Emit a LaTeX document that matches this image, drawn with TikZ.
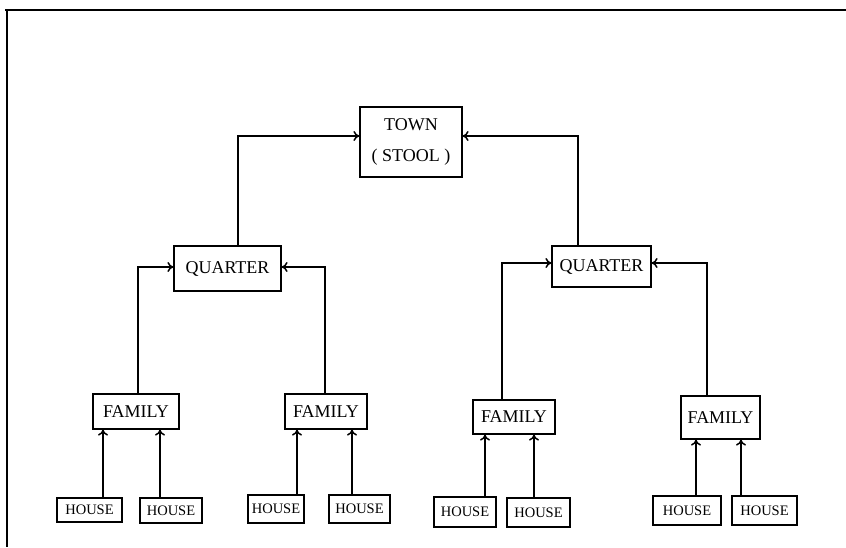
\documentclass[tikz,border=0pt]{standalone}
\usepackage{fontspec}
\setmainfont{Liberation Serif}
\usetikzlibrary{arrows.meta}
\begin{document}
\begin{tikzpicture}[x=1pt,y=-1pt,
  box/.style={draw,line width=1.2pt,inner sep=0pt,align=center},
  bigbox/.style={box,font=\fontsize{18}{31}\selectfont},
  housebox/.style={box,font=\fontsize{14.5}{16}\selectfont},
  arr/.style={line width=1.2pt,-{To[length=6pt,width=10pt,line width=1.5pt]}}]
\useasboundingbox (0,0) rectangle (846,547);
% frame
\coordinate (f1) at (5,10);
\coordinate (f2) at (846,10);
\coordinate (f3) at (7,10);
\coordinate (f4) at (7,547);
\draw[line width=2pt] (f1) -- (f2);
\draw[line width=1.3pt] (f3) -- (f4);
% nodes
\node[bigbox,minimum width=102pt,minimum height=70pt] (T) at (411,142) {TOWN\\( STOOL )};
\node[bigbox,minimum width=107pt,minimum height=45pt] (Q1) at (227.5,268.5) {QUARTER};
\node[bigbox,minimum width=99pt,minimum height=41pt] (Q2) at (601.5,266.5) {QUARTER};
\node[bigbox,minimum width=86pt,minimum height=35pt] (F1) at (136,411.5) {FAMILY};
\node[bigbox,minimum width=82pt,minimum height=35pt] (F2) at (326,411.5) {FAMILY};
\node[bigbox,minimum width=82pt,minimum height=34pt] (F3) at (514,417) {FAMILY};
\node[bigbox,minimum width=79pt,minimum height=43pt] (F4) at (720.5,417.5) {FAMILY};
\node[housebox,minimum width=65pt,minimum height=24pt] (H1) at (89.5,510) {HOUSE};
\node[housebox,minimum width=62pt,minimum height=25pt] (H2) at (171,510.5) {HOUSE};
\node[housebox,minimum width=56pt,minimum height=28pt] (H3) at (276,509) {HOUSE};
\node[housebox,minimum width=61pt,minimum height=28pt] (H4) at (359.5,509) {HOUSE};
\node[housebox,minimum width=62pt,minimum height=30pt] (H5) at (465,512) {HOUSE};
\node[housebox,minimum width=63pt,minimum height=29pt] (H6) at (538.5,512.5) {HOUSE};
\node[housebox,minimum width=68pt,minimum height=29pt] (H7) at (687,510.5) {HOUSE};
\node[housebox,minimum width=65pt,minimum height=29pt] (H8) at (764.5,510.5) {HOUSE};
% quarter -> town
\draw[arr] ([xshift=10.5pt]Q1.north) |- ([yshift=6pt]T.west);
\draw[arr] ([xshift=-23.5pt]Q2.north) |- ([yshift=6pt]T.east);
% family -> quarter
\draw[arr] ([xshift=2pt]F1.north) |- ([yshift=1.5pt]Q1.west);
\draw[arr] ([xshift=-1pt]F2.north) |- ([yshift=1.5pt]Q1.east);
\draw[arr] ([xshift=-12pt]F3.north) |- ([yshift=3.5pt]Q2.west);
\draw[arr] ([xshift=-13.5pt]F4.north) |- ([yshift=3.5pt]Q2.east);
% house -> family
\draw[arr] ([xshift=13.5pt]H1.north) -- ([xshift=13.5pt]H1.north |- F1.south);
\draw[arr] ([xshift=-11pt]H2.north) -- ([xshift=-11pt]H2.north |- F1.south);
\draw[arr] ([xshift=21pt]H3.north) -- ([xshift=21pt]H3.north |- F2.south);
\draw[arr] ([xshift=-7.5pt]H4.north) -- ([xshift=-7.5pt]H4.north |- F2.south);
\draw[arr] ([xshift=20pt]H5.north) -- ([xshift=20pt]H5.north |- F3.south);
\draw[arr] ([xshift=-4.5pt]H6.north) -- ([xshift=-4.5pt]H6.north |- F3.south);
\draw[arr] ([xshift=9pt]H7.north) -- ([xshift=9pt]H7.north |- F4.south);
\draw[arr] ([xshift=-23.5pt]H8.north) -- ([xshift=-23.5pt]H8.north |- F4.south);
\end{tikzpicture}
\end{document}
